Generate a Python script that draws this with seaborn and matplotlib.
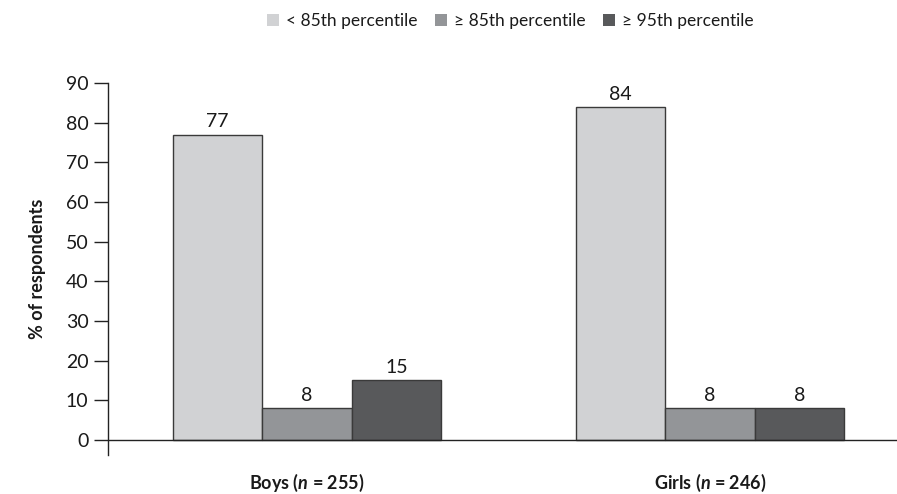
import matplotlib
matplotlib.use("Agg")
import matplotlib.pyplot as plt
import seaborn as sns
import pandas as pd

groups = ["Boys", "Girls"]
group_n = [255, 246]
categories = ["< 85th percentile", "\u2265 85th percentile", "\u2265 95th percentile"]
boys_values = [77, 8, 15]
girls_values = [84, 8, 8]
palette = ["#d1d2d4", "#939598", "#58595b"]

rows = []
for g, vals in zip(groups, [boys_values, girls_values]):
    for c, v in zip(categories, vals):
        rows.append({"group": g, "category": c, "value": v})
df = pd.DataFrame(rows)

sns.set_style("white")
plt.rcParams["font.family"] = ["Lato", "DejaVu Sans"]
plt.rcParams["mathtext.fontset"] = "custom"
plt.rcParams["mathtext.it"] = "Lato:italic:bold"
plt.rcParams["mathtext.rm"] = "Lato:bold"

fig = plt.figure(figsize=(8.97, 4.94), dpi=100)
ax = fig.add_axes([0.1204, 0.079, 0.8796, 0.753])

sns.barplot(data=df, x="group", y="value", hue="category", order=groups,
            hue_order=categories, palette=palette, width=0.667,
            edgecolor="#3a3a3a", linewidth=1.0, saturation=1, ax=ax,
            legend=True)

for cont in ax.containers:
    ax.bar_label(cont, fmt="%d", padding=3, fontsize=14, color="#1a1a1a")

ax.set_ylim(-3.8, 90)
ax.set_xlim(-0.494, 1.464)
ax.set_yticks(range(0, 91, 10))
ax.tick_params(axis="y", direction="out", length=10, width=1, color="#222222",
               labelsize=14, labelcolor="#1a1a1a", pad=4, left=True)
ax.tick_params(axis="x", length=0, pad=12)
ax.set_xticks([0, 1])
ax.set_xticklabels([f"{g} ($\\it{{n}}$ = {n})" for g, n in zip(groups, group_n)],
                   fontsize=13, fontweight="bold", color="#1a1a1a")
ax.set_xlabel("")
ax.set_ylabel("% of respondents", fontsize=13, fontweight="bold", color="#1a1a1a", labelpad=14)

for side in ["top", "right", "bottom"]:
    ax.spines[side].set_visible(False)
ax.spines["left"].set_color("#222222")
ax.spines["left"].set_linewidth(1)
ax.axhline(0, color="#222222", linewidth=1, zorder=5)

leg = ax.legend(loc="upper center", bbox_to_anchor=(0.51, 1.23), ncol=3, frameon=False,
                fontsize=12.5, handlelength=0.7, handleheight=0.7, handletextpad=0.4,
                columnspacing=1.0)
for h in leg.legend_handles:
    h.set_edgecolor("none")
for t in leg.get_texts():
    t.set_color("#1a1a1a")

fig.savefig("out.png", dpi=100)
